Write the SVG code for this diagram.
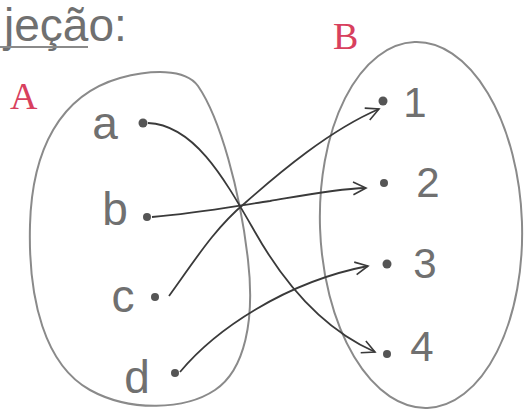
<svg xmlns="http://www.w3.org/2000/svg" width="525" height="414" viewBox="0 0 525 414">
<style>
.set{fill:none;stroke:#8a8a8a;stroke-width:2}
.lbl{font-family:"Liberation Sans","DejaVu Sans",sans-serif;fill:#707070;font-size:46px}
.num{font-family:"Liberation Sans","DejaVu Sans",sans-serif;fill:#707070;font-size:42px}
.red{font-family:"Liberation Serif",serif;fill:#d8405e;font-size:38px}
.dot{fill:#555}
.edge{fill:none;stroke:#3a3a3a;stroke-width:1.8;marker-end:url(#arr)}
</style>
<defs>
<marker id="arr" viewBox="0 0 20 20" refX="18" refY="10" markerWidth="16" markerHeight="16" markerUnits="userSpaceOnUse" orient="auto">
<path d="M2,2 L18,10 L2,18" fill="none" stroke="#3a3a3a" stroke-width="2"/>
</marker>
</defs>
<rect width="525" height="414" fill="#fff"/>
<g id="title">
<text x="4" y="41" class="lbl" font-size="31">jeção:</text>
<line x1="0" y1="47" x2="88" y2="47" stroke="#8a8a8a" stroke-width="2"/>
</g>
<g id="setA">
<path class="set" d="M120,78 C150,70 185,68 198,86 C220,118 240,190 248,260 C255,320 245,370 215,390 C185,410 130,412 90,390 C45,365 28,300 30,225 C32,150 60,95 120,78 Z"/>
<text x="10" y="109" class="red">A</text>
</g>
<g id="setB">
<ellipse class="set" cx="421" cy="225" rx="101" ry="183" transform="rotate(-2 421 225)"/>
<text x="333" y="49" class="red">B</text>
</g>
<g id="node-a"><circle class="dot" cx="143" cy="123" r="4.5"/><text class="lbl" x="105" y="139" text-anchor="middle">a</text></g>
<g id="node-b"><circle class="dot" cx="147" cy="217" r="4"/><text class="lbl" x="115" y="225" text-anchor="middle">b</text></g>
<g id="node-c"><circle class="dot" cx="155" cy="297" r="4"/><text class="lbl" x="123" y="312" text-anchor="middle">c</text></g>
<g id="node-d"><circle class="dot" cx="175" cy="373" r="4"/><text class="lbl" x="137" y="393" text-anchor="middle">d</text></g>
<g id="node-1"><circle class="dot" cx="383" cy="101" r="4.5"/><text class="num" x="415" y="117" text-anchor="middle" font-size="52">1</text></g>
<g id="node-2"><circle class="dot" cx="384" cy="183" r="4"/><text class="num" x="428" y="197" text-anchor="middle">2</text></g>
<g id="node-3"><circle class="dot" cx="387" cy="264" r="4.5"/><text class="num" x="425" y="278" text-anchor="middle">3</text></g>
<g id="node-4"><circle class="dot" cx="387" cy="354" r="4"/><text class="num" x="422" y="361" text-anchor="middle">4</text></g>
<g id="connectors">
<path class="edge" d="M148,123 C195,125 225,180 255,232 C285,285 325,330 375,352"/>
<path class="edge" d="M152,217 C200,213 235,206 270,201 C305,195 335,189 366,188"/>
<path class="edge" d="M169,296 C195,260 215,228 245,203 C280,172 330,130 379,109"/>
<path class="edge" d="M180,372 C215,330 285,282 368,266"/>
</g>
</svg>
